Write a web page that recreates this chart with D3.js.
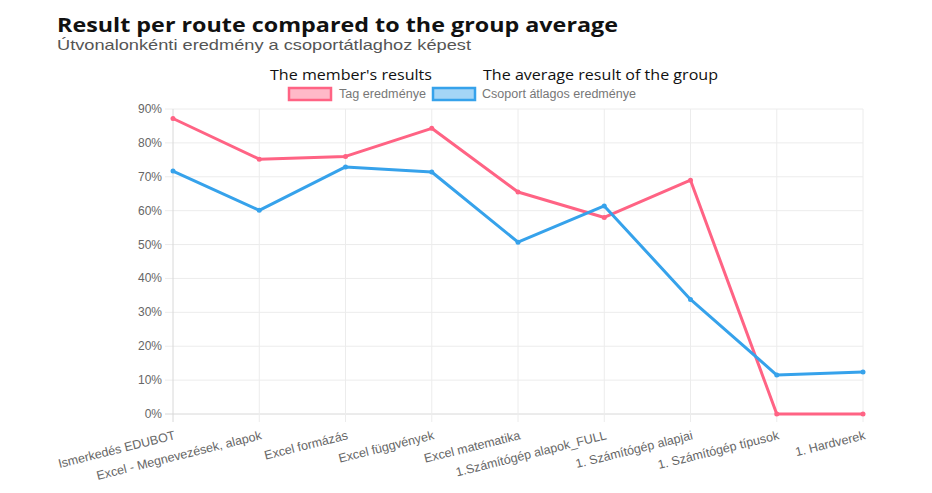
<!DOCTYPE html>
<html>
<head>
<meta charset="utf-8">
<script src="https://cdn.jsdelivr.net/npm/d3@7"></script>
<style>
  body { margin: 0; background: #fff; }
  svg { display: block; }
</style>
</head>
<body>
<svg id="chart" width="932" height="493"></svg>
<script>
var categories = [
  "Ismerkedés EDUBOT",
  "Excel - Megnevezések, alapok",
  "Excel formázás",
  "Excel függvények",
  "Excel matematika",
  "1.Számítógép alapok_FULL",
  "1. Számítógép alapjai",
  "1. Számítógép típusok",
  "1. Hardverek"
];
var memberValues = [87.2, 75.2, 76.0, 84.3, 65.5, 58.0, 69.0, 0, 0];
var groupValues = [71.7, 60.1, 72.9, 71.4, 50.7, 61.4, 33.8, 11.5, 12.4];
var yTicks = [0, 10, 20, 30, 40, 50, 60, 70, 80, 90];

var svg = d3.select("#chart");
var plot = { left: 173, right: 863, top: 109, bottom: 414 };

var x = d3.scalePoint().domain(categories).range([plot.left, plot.right]);
var y = d3.scaleLinear().domain([0, 90]).range([plot.bottom, plot.top]);

// title block
svg.append("text")
  .attr("x", 57).attr("y", 32)
  .style("font-family", "'Open Sans', sans-serif")
  .style("font-weight", "bold")
  .style("font-size", "20px")
  .attr("textLength", 561)
  .attr("lengthAdjust", "spacingAndGlyphs")
  .attr("fill", "#111")
  .text("Result per route compared to the group average");

svg.append("text")
  .attr("x", 57).attr("y", 50)
  .style("font-family", "'Liberation Sans', Arial, sans-serif")
  .style("font-size", "15px")
  .attr("textLength", 414)
  .attr("lengthAdjust", "spacingAndGlyphs")
  .attr("fill", "#555")
  .text("Útvonalonkénti eredmény a csoportátlaghoz képest");

// grid
var grid = svg.append("g");
grid.selectAll("line.h").data(yTicks).enter().append("line")
  .attr("x1", plot.left - 8).attr("x2", plot.right)
  .attr("y1", function(d) { return y(d); })
  .attr("y2", function(d) { return y(d); })
  .attr("stroke", function(d) { return d == 0 ? "#d8d8d8" : "#ececec"; })
  .attr("stroke-width", 1);

grid.selectAll("line.v").data(categories).enter().append("line")
  .attr("y1", plot.top).attr("y2", plot.bottom + 8)
  .attr("x1", function(d) { return x(d); })
  .attr("x2", function(d) { return x(d); })
  .attr("stroke", function(d, i) { return i == 0 ? "#d8d8d8" : "#ececec"; })
  .attr("stroke-width", 1);

// y tick labels
svg.append("g").selectAll("text").data(yTicks).enter().append("text")
  .attr("x", 162)
  .attr("y", function(d) { return y(d) + 4; })
  .attr("text-anchor", "end")
  .style("font-family", "'Liberation Sans', Arial, sans-serif")
  .style("font-size", "12px")
  .attr("fill", "#666")
  .text(function(d) { return d + "%"; });

// x tick labels, rotated
svg.append("g").selectAll("text").data(categories).enter().append("text")
  .attr("text-anchor", "end")
  .attr("transform", function(d) { return "translate(" + (x(d) + 3) + "," + 439 + ") rotate(-14)"; })
  .style("font-family", "'Liberation Sans', Arial, sans-serif")
  .style("font-size", "12.5px")
  .attr("fill", "#666")
  .text(function(d) { return d; });

// lines
var series = [
  { values: memberValues, color: "#ff6384" },
  { values: groupValues, color: "#36a2eb" }
];

var line = d3.line()
  .x(function(d, i) { return x(categories[i]); })
  .y(function(d) { return y(d); });

series.forEach(function(s) {
  svg.append("path")
    .datum(s.values)
    .attr("d", line)
    .attr("fill", "none")
    .attr("stroke", s.color)
    .attr("stroke-width", 3)
    .attr("stroke-linejoin", "round");

  svg.append("g").selectAll("circle").data(s.values).enter().append("circle")
    .attr("cx", function(d, i) { return x(categories[i]); })
    .attr("cy", function(d) { return y(d); })
    .attr("r", 2.5)
    .attr("fill", s.color);
});

// legend
var legend = [
  { title: "The member's results", label: "Tag eredménye", color: "#ff6384", fill: "rgba(255,99,132,0.45)", tx: 270, bx: 289, lx: 339, tw: 162, lw: 87 },
  { title: "The average result of the group", label: "Csoport átlagos eredménye", color: "#36a2eb", fill: "rgba(54,162,235,0.45)", tx: 483, bx: 433, lx: 482, tw: 235, lw: 154 }
];

legend.forEach(function(l) {
  svg.append("text")
    .attr("x", l.tx).attr("y", 80)
    .style("font-family", "'Open Sans', sans-serif")
    .style("font-size", "14px")
    .attr("textLength", l.tw)
    .attr("lengthAdjust", "spacingAndGlyphs")
    .attr("fill", "#111")
    .text(l.title);
  svg.append("rect")
    .attr("x", l.bx).attr("y", 88)
    .attr("width", 42).attr("height", 12)
    .attr("fill", l.fill)
    .attr("stroke", l.color)
    .attr("stroke-width", 2.5);
  svg.append("text")
    .attr("x", l.lx).attr("y", 98)
    .style("font-family", "'Liberation Sans Narrow', 'Liberation Sans', Arial, sans-serif")
    .style("font-size", "12px")
    .attr("textLength", l.lw)
    .attr("lengthAdjust", "spacingAndGlyphs")
    .attr("fill", "#777")
    .text(l.label);
});
</script>
</body>
</html>
